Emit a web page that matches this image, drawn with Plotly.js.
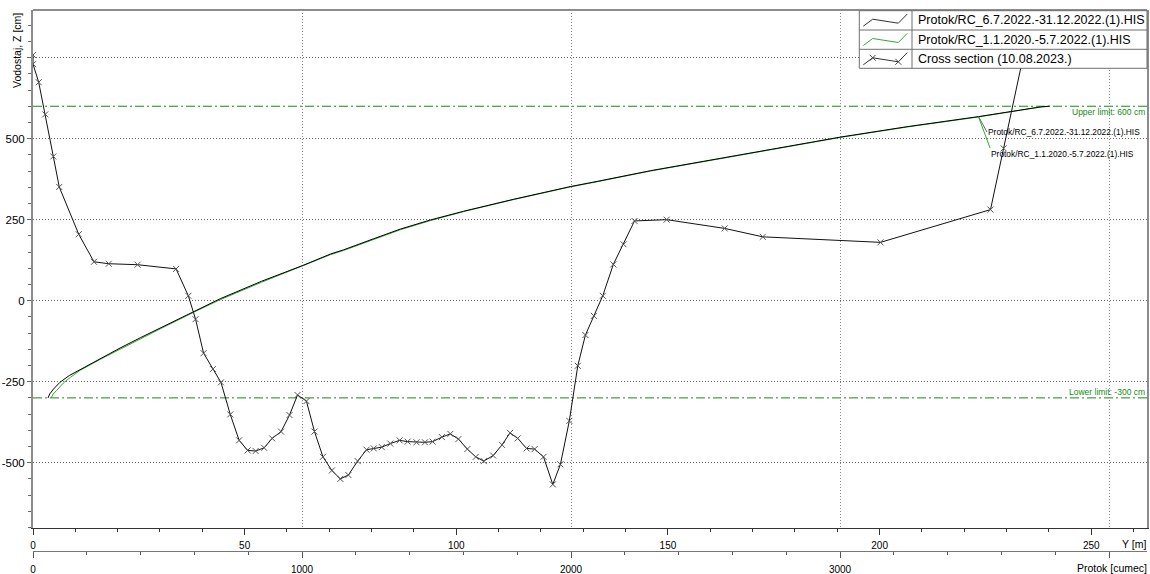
<!DOCTYPE html>
<html>
<head>
<meta charset="utf-8">
<script src="https://cdn.plot.ly/plotly-3.0.1.min.js"></script>
<style>html,body{margin:0;padding:0;background:#fff;}#chart{width:1150px;height:574px;}</style>
</head>
<body>
<div id="chart"></div>
<script>
// ---- Data ----
// Cross section (10.08.2023.): Y [m] vs Z [cm]
const csY = [0, 0, 1.35, 2.9, 4.8, 6.2, 10.8, 14.4, 17.9, 24.7, 33.8, 36.7, 38.4, 40.3, 42.5, 44.4, 46.6, 48.7, 50.7, 52.6, 54.6, 56.5, 58.6, 60.6, 62.5, 64.6, 66.5, 68.5, 70.6, 72.6, 74.5, 76.7, 78.8, 80.5, 82.4, 84.4, 86.6, 88.5, 90.6, 92.6, 94.4, 96.6, 98.6, 100.5, 102.6, 104.6, 106.5, 108.7, 110.8, 112.7, 114.5, 116.6, 118.5, 120.6, 122.8, 124.6, 126.7, 128.7, 130.5, 132.5, 134.6, 137.1, 139.5, 142.1, 149.7, 163.4, 172.4, 200.2, 226.2, 229.3, 234];
const csZ = [758, 730, 674, 575, 445, 351, 205, 120, 114, 111, 98, 15, -57, -162, -211, -252, -351, -431, -462, -464, -454, -425, -404, -353, -291, -310, -404, -482, -524, -550, -538, -495, -460, -456, -452, -441, -431, -435, -437, -437, -435, -421, -411, -427, -458, -482, -495, -478, -445, -408, -425, -456, -458, -482, -567, -505, -371, -201, -106, -47, 15, 112, 174, 246, 250, 223, 197, 180, 281, 470, 758];

// Rating curve Protok/RC_6.7.2022.-31.12.2022.(1).HIS : Q [cumec] vs Z [cm]
const rcBlackQ = [56, 62, 76, 100, 135, 175, 250, 324, 400, 473, 597, 696, 850, 1001, 1106, 1155, 1266, 1366, 1477, 1601, 1787, 1997, 2097, 2295, 2629, 3003, 3250, 3515, 3747, 3779];
const rcBlackZ = [-300, -288, -273, -252, -231, -213, -178, -146, -114, -84, -33, 6, 60, 108, 144, 157, 191, 221, 249, 276, 313, 352, 368, 401, 450, 505, 537, 568, 598, 600];

// Rating curve Protok/RC_1.1.2020.-5.7.2022.(1).HIS
const rcGreenQ = [68, 74, 88, 113, 140, 175, 250, 324, 400, 473, 597, 696, 850, 1001, 1106, 1155, 1266, 1366, 1477, 1601, 1787, 1997, 2097, 2295, 2629, 3003, 3250, 3515, 3747, 3779];
const rcGreenZ = [-300, -289, -277, -254, -236, -215, -181, -149, -117, -87, -36, 3, 57, 106, 142, 155, 189, 219, 247, 275, 312, 351, 367, 400, 449, 504, 536, 567, 598, 600];

const upperLimit = 600;
const lowerLimit = -300;

const yTickVals = [-500, -250, 0, 250, 500, 750];
const yTickText = ['-500', '-250', '0', '250', '500', ''];
const qTickVals = [0, 1000, 2000, 3000, 4000];
const qTickText = ['0', '1000', '2000', '3000', ''];

const legendNames = ['Protok/RC_6.7.2022.-31.12.2022.(1).HIS', 'Protok/RC_1.1.2020.-5.7.2022.(1).HIS', 'Cross section (10.08.2023.)'];
const labelIndex = 27; // point on the rating curves where the leader labels attach

// ---- Layout helpers (pixel -> paper) ----
const W = 1150, H = 574, ML = 33, MR = 3, MT = 10, MB = 2;
const PW = W - ML - MR, PH = H - MT - MB;
function fx(px) { return (px - ML) / PW; }
function fy(py) { return (H - MB - py) / PH; }

const GREEN_LIM = 'rgb(20,140,20)';
const GREEN_RC = 'rgb(50,170,50)';
const FONT = 'Liberation Sans, Arial, sans-serif';

const traces = [
  { x: rcGreenQ, y: rcGreenZ, xaxis: 'x2', yaxis: 'y', type: 'scatter', mode: 'lines',
    line: { color: GREEN_RC, width: 1 }, showlegend: false, hoverinfo: 'skip' },
  { x: rcBlackQ, y: rcBlackZ, xaxis: 'x2', yaxis: 'y', type: 'scatter', mode: 'lines',
    line: { color: '#000', width: 1 }, showlegend: false, hoverinfo: 'skip' },
  { x: csY, y: csZ, xaxis: 'x', yaxis: 'y', type: 'scatter', mode: 'lines+markers',
    line: { color: '#111', width: 1 },
    marker: { symbol: 'x-thin', size: 6, line: { color: '#555', width: 1 } },
    showlegend: false, hoverinfo: 'skip' }
];

const shapes = [];
const annotations = [];

// limit lines
[upperLimit, lowerLimit].forEach(v => shapes.push({
  type: 'line', xref: 'paper', yref: 'y', x0: 0, x1: 1, y0: v, y1: v,
  line: { color: GREEN_LIM, width: 1, dash: '9px,3px,2px,3px' }, layer: 'below'
}));
annotations.push({ xref: 'paper', yref: 'y', x: 1, y: upperLimit, xanchor: 'right', yanchor: 'top',
  text: 'Upper limit: ' + upperLimit + ' cm', showarrow: false, font: { family: FONT, size: 8.5, color: GREEN_LIM }, yshift: 1 });
annotations.push({ xref: 'paper', yref: 'y', x: 1, y: lowerLimit, xanchor: 'right', yanchor: 'bottom',
  text: 'Lower limit: ' + lowerLimit + ' cm', showarrow: false, font: { family: FONT, size: 8.5, color: GREEN_LIM }, yshift: -1 });

// top frame line
shapes.push({ type: 'line', xref: 'paper', yref: 'paper', x0: 0, x1: 1, y0: 1, y1: 1,
  line: { color: '#8c8c8c', width: 2 }, layer: 'above' });

// legend box
const LX0 = 859.3, LX1 = 1147, LY0 = 10.7, LY1 = 68.3, LXD = 912;
const rowDiv = [30, 49.3];
shapes.push({ type: 'rect', xref: 'paper', yref: 'paper', x0: fx(LX0), x1: fx(LX1), y0: fy(LY1), y1: fy(LY0),
  fillcolor: '#fff', line: { color: '#6e6e6e', width: 1 }, layer: 'above' });
rowDiv.forEach(py => shapes.push({ type: 'line', xref: 'paper', yref: 'paper', x0: fx(LX0), x1: fx(LX1), y0: fy(py), y1: fy(py),
  line: { color: '#6e6e6e', width: 1 }, layer: 'above' }));
shapes.push({ type: 'line', xref: 'paper', yref: 'paper', x0: fx(LXD), x1: fx(LXD), y0: fy(LY1), y1: fy(LY0),
  line: { color: '#6e6e6e', width: 1 }, layer: 'above' });
const rowTop = [LY0, rowDiv[0], rowDiv[1]];
const sampleColors = ['#333', GREEN_RC, '#333'];
rowTop.forEach((t, i) => {
  const pts = [[863.3, t + 15.5], [872.7, t + 8.5], [898.3, t + 12.5], [907.3, t + 3.3]];
  const d = 'M' + pts.map(p => fx(p[0]) + ',' + fy(p[1])).join(' L');
  shapes.push({ type: 'path', xref: 'paper', yref: 'paper', path: d, line: { color: sampleColors[i], width: 1 }, layer: 'above' });
  if (i === 2) {
    [pts[1], pts[2]].forEach(p => {
      const s = 3;
      const dd = 'M' + fx(p[0] - s) + ',' + fy(p[1] - s) + ' L' + fx(p[0] + s) + ',' + fy(p[1] + s) +
                 ' M' + fx(p[0] - s) + ',' + fy(p[1] + s) + ' L' + fx(p[0] + s) + ',' + fy(p[1] - s);
      shapes.push({ type: 'path', xref: 'paper', yref: 'paper', path: dd, line: { color: '#444', width: 1 }, layer: 'above' });
    });
  }
  annotations.push({ xref: 'paper', yref: 'paper', x: fx(915.5), y: fy(t + 9.8), xanchor: 'left', yanchor: 'middle',
    text: legendNames[i], showarrow: false, font: { family: FONT, size: 12.5, color: '#000' } });
});

// leader labels for rating curves
annotations.push({ xref: 'x2', yref: 'y', x: rcBlackQ[labelIndex], y: rcBlackZ[labelIndex],
  text: legendNames[0], showarrow: true, arrowhead: 0, arrowwidth: 1, arrowcolor: '#666',
  ax: 8.5, ay: 15.5, xanchor: 'left', yanchor: 'middle', standoff: 0,
  font: { family: FONT, size: 8.4, color: '#000' }, borderpad: 0 });
annotations.push({ xref: 'x2', yref: 'y', x: rcGreenQ[labelIndex], y: rcGreenZ[labelIndex],
  text: legendNames[1], showarrow: true, arrowhead: 0, arrowwidth: 1, arrowcolor: GREEN_RC,
  ax: 11.5, ay: 31, xanchor: 'left', yanchor: 'top', standoff: 0,
  font: { family: FONT, size: 8.4, color: '#000' }, borderpad: 0 });

// axis titles
annotations.push({ xref: 'paper', yref: 'paper', x: fx(16.5), y: fy(11), xanchor: 'center', yanchor: 'top',
  text: 'Vodostaj, Z [cm]', textangle: -90, showarrow: false, font: { family: FONT, size: 10.5, color: '#000' } });
annotations.push({ xref: 'paper', yref: 'paper', x: fx(1148), y: fy(544), xanchor: 'right', yanchor: 'middle',
  text: 'Y [m]', showarrow: false, font: { family: FONT, size: 10.5, color: '#000' } });
annotations.push({ xref: 'paper', yref: 'paper', x: fx(1149), y: fy(568), xanchor: 'right', yanchor: 'middle',
  text: 'Protok [cumec]', showarrow: false, font: { family: FONT, size: 10.5, color: '#000' } });

const yDomain0 = fy(528);
const layout = {
  width: W, height: H,
  margin: { l: ML, r: MR, t: MT, b: MB, pad: 0 },
  paper_bgcolor: '#fff', plot_bgcolor: '#fff',
  showlegend: false,
  font: { family: FONT, size: 11, color: '#000' },
  xaxis: {
    range: [0, PW / 4.233], domain: [0, 1], anchor: 'y',
    showgrid: false, zeroline: false,
    showline: true, linecolor: '#333', linewidth: 1,
    ticks: 'outside', ticklen: 6, tickcolor: '#333', tickwidth: 1,
    dtick: 50, tick0: 0,
    minor: { dtick: 10, ticks: 'outside', ticklen: 3, tickcolor: '#333', showgrid: false },
    tickfont: { family: FONT, size: 10, color: '#000' }, ticklabelstandoff: 2
  },
  xaxis2: {
    range: [0, PW / 0.269], overlaying: 'x', anchor: 'free', position: fy(551), side: 'bottom',
    showgrid: true, gridcolor: '#8a8a8a', griddash: '1px,2px', gridwidth: 1, zeroline: false,
    showline: true, linecolor: '#777', linewidth: 1,
    ticks: 'outside', ticklen: 6, tickcolor: '#555',
    tickmode: 'array', tickvals: qTickVals, ticktext: qTickText,
    minor: { dtick: 200, ticks: 'outside', ticklen: 3, tickcolor: '#555', showgrid: false },
    tickfont: { family: FONT, size: 10, color: '#000' }, ticklabelstandoff: 3
  },
  yaxis: {
    range: [-701.5, 897], domain: [yDomain0, 1],
    showgrid: true, gridcolor: '#666', griddash: '1px,2px', gridwidth: 1, zeroline: false,
    showline: true, linecolor: '#8c8c8c', linewidth: 2, mirror: true,
    ticks: 'outside', ticklen: 4, tickcolor: '#666',
    tickmode: 'array', tickvals: yTickVals, ticktext: yTickText,
    minor: { dtick: 50, ticks: 'outside', ticklen: 3, tickcolor: '#666', showgrid: false },
    tickfont: { family: FONT, size: 11.5, color: '#000' }, ticklabelstandoff: 0
  },
  shapes: shapes,
  annotations: annotations
};

Plotly.newPlot('chart', traces, layout, { staticPlot: true, displayModeBar: false });
</script>
</body>
</html>
